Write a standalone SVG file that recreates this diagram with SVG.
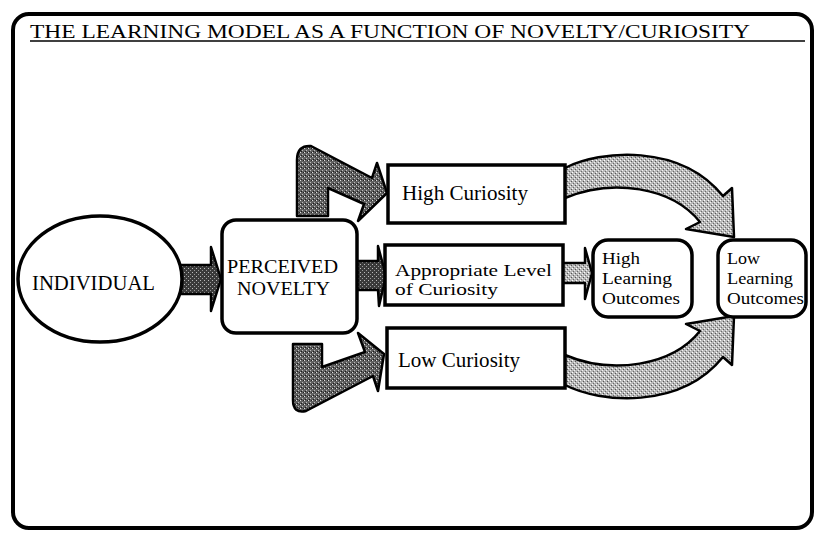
<svg xmlns="http://www.w3.org/2000/svg" width="818" height="534" viewBox="0 0 818 534">
  <defs>
    <!-- stippled fills used by the block arrows -->
    <pattern id="stippleDark" width="4" height="4" patternUnits="userSpaceOnUse">
      <rect width="4" height="4" fill="#606060"/>
      <rect x="0" y="0" width="1" height="1" fill="#e0e0e0"/>
      <rect x="2" y="2" width="1" height="1" fill="#bdbdbd"/>
      <rect x="3" y="0" width="1" height="1" fill="#222"/>
      <rect x="1" y="3" width="1" height="1" fill="#1a1a1a"/>
    </pattern>
    <pattern id="stippleBlack" width="4" height="4" patternUnits="userSpaceOnUse">
      <rect width="4" height="4" fill="#3a3a3a"/>
      <rect x="0" y="0" width="1" height="1" fill="#bbb"/>
      <rect x="2" y="2" width="1" height="1" fill="#999"/>
    </pattern>
    <pattern id="stippleLight" width="4" height="4" patternUnits="userSpaceOnUse">
      <rect width="4" height="4" fill="#b8b8b8"/>
      <rect x="0" y="0" width="1" height="1" fill="#fff"/>
      <rect x="2" y="2" width="1" height="1" fill="#f2f2f2"/>
      <rect x="3" y="1" width="1" height="1" fill="#555"/>
      <rect x="1" y="3" width="1" height="1" fill="#6a6a6a"/>
    </pattern>
    <style>
      .frame { fill: none; stroke: #000; stroke-width: 4; }
      .box { fill: #fff; stroke: #000; stroke-width: 3.5; }
      .arrow { stroke: #000; stroke-width: 2.5; stroke-linejoin: round; }
      .dark { fill: url(#stippleDark); }
      .black { fill: url(#stippleBlack); }
      .light { fill: url(#stippleLight); }
      text { font-family: "Liberation Serif", "Times New Roman", serif; fill: #000; }
      .title { font-size: 19px; }
      .label { font-size: 20px; }
      .pair { font-size: 17px; }
      .small { font-size: 18px; }
      .stack { font-size: 16.5px; }
    </style>
  </defs>

  <rect width="818" height="534" fill="#fff"/>

  <!-- outer frame and heading -->
  <rect class="frame" x="13" y="14" width="799" height="514" rx="16" ry="16"/>
  <text class="title" x="30" y="38" textLength="720" lengthAdjust="spacingAndGlyphs">THE LEARNING MODEL AS A FUNCTION OF NOVELTY/CURIOSITY</text>
  <line x1="30" y1="41" x2="805" y2="41" stroke="#000" stroke-width="1.6"/>

  <!-- connectors -->
  <g id="connectors">
    <!-- individual to perceived novelty -->
    <path class="arrow black" d="M180,265 L211,265 L211,247 L221,279 L211,311 L211,294 L180,294 Z"/>
    <!-- perceived novelty to appropriate level -->
    <path class="arrow black" d="M357,261 L378,261 L378,246 L386,276 L379,306 L378,290 L357,290 Z"/>
    <!-- perceived novelty up to high curiosity -->
    <path class="arrow dark" d="M297,216 L297,160 Q297,145 311,146 L372,178 L377,163 L387,193 L358,221 L364,204 L328,188 L328,216 Z"/>
    <!-- perceived novelty down to low curiosity -->
    <path class="arrow dark" d="M293,344 L322,344 L322,367 L365,352 L358,333 L384,354 L378,391 L373,376 L306,411 Q293,414 293,400 Z"/>
    <!-- appropriate level to high learning outcomes -->
    <path class="arrow light" d="M563,263 L585,263 L585,248 L592,273 L585,299 L585,283 L563,283 Z"/>
    <!-- high curiosity to low learning outcomes -->
    <path class="arrow light" d="M565,168 C600,150 680,143 723,196 L732,188 L734,237 L686,229 L700,222 C672,187 612,178 565,198 Z"/>
    <!-- low curiosity to low learning outcomes -->
    <path class="arrow light" d="M565,385 C600,403 680,410 723,357 L732,365 L734,316 L686,324 L700,331 C672,366 612,375 565,355 Z"/>
  </g>

  <!-- nodes -->
  <g id="individual">
    <ellipse class="box" cx="100" cy="279" rx="82" ry="63"/>
    <text class="label" x="32" y="290" textLength="123" lengthAdjust="spacingAndGlyphs">INDIVIDUAL</text>
  </g>

  <g id="perceived-novelty">
    <rect class="box" x="222" y="220" width="135" height="113" rx="14" ry="14"/>
    <text class="small" x="227" y="273" textLength="111" lengthAdjust="spacingAndGlyphs">PERCEIVED</text>
    <text class="small" x="237" y="295" textLength="93" lengthAdjust="spacingAndGlyphs">NOVELTY</text>
  </g>

  <g id="high-curiosity">
    <rect class="box" x="388" y="165" width="177" height="58"/>
    <text class="label" x="402" y="200" textLength="126" lengthAdjust="spacingAndGlyphs">High Curiosity</text>
  </g>

  <g id="appropriate-level">
    <rect class="box" x="385" y="245" width="178" height="60"/>
    <text class="pair" x="395" y="276" textLength="157" lengthAdjust="spacingAndGlyphs">Appropriate Level</text>
    <text class="pair" x="395" y="295" textLength="103" lengthAdjust="spacingAndGlyphs">of Curiosity</text>
  </g>

  <g id="low-curiosity">
    <rect class="box" x="387" y="328" width="178" height="60"/>
    <text class="label" x="398" y="367" textLength="122" lengthAdjust="spacingAndGlyphs">Low Curiosity</text>
  </g>

  <g id="high-learning-outcomes">
    <rect class="box" x="593" y="240" width="99" height="77" rx="15" ry="15"/>
    <text class="stack" x="602" y="264" textLength="38" lengthAdjust="spacingAndGlyphs">High</text>
    <text class="stack" x="602" y="284" textLength="70" lengthAdjust="spacingAndGlyphs">Learning</text>
    <text class="stack" x="602" y="304" textLength="78" lengthAdjust="spacingAndGlyphs">Outcomes</text>
  </g>

  <g id="low-learning-outcomes">
    <rect class="box" x="718" y="240" width="88" height="77" rx="15" ry="15"/>
    <text class="stack" x="727" y="264" textLength="33" lengthAdjust="spacingAndGlyphs">Low</text>
    <text class="stack" x="727" y="284" textLength="66" lengthAdjust="spacingAndGlyphs">Learning</text>
    <text class="stack" x="727" y="304" textLength="77" lengthAdjust="spacingAndGlyphs">Outcomes</text>
  </g>
</svg>
